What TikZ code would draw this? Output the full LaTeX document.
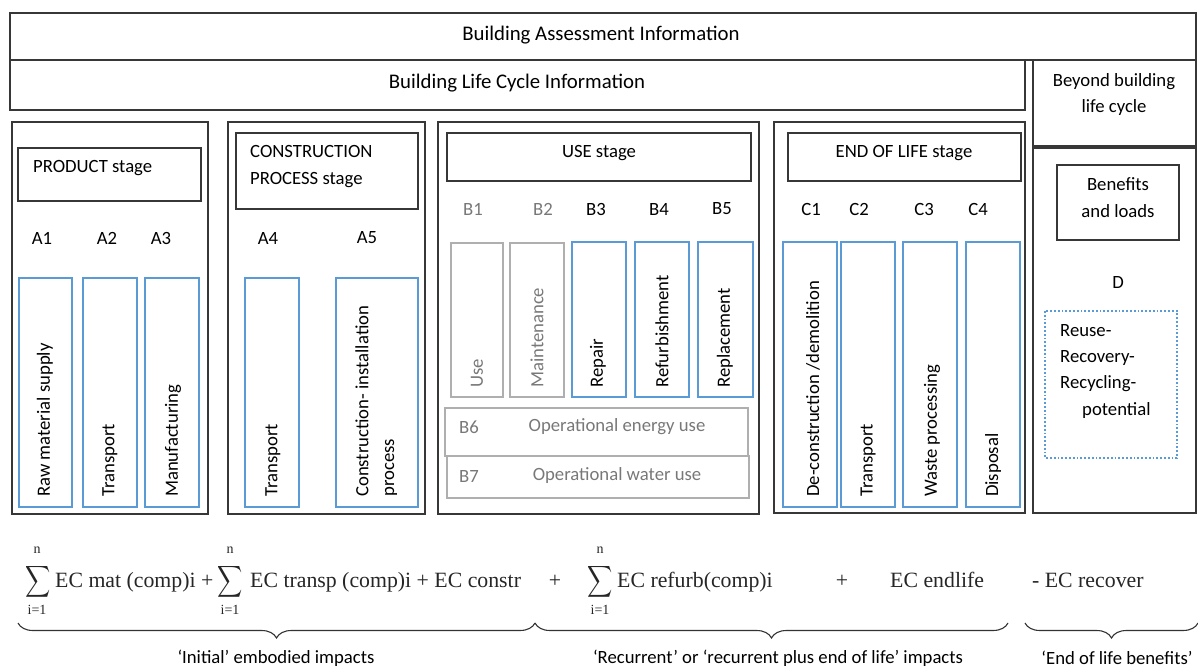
\documentclass[tikz,border=0pt]{standalone}
\usepackage{fontspec}
\setmainfont{Carlito}
\newfontfamily\formfont{Liberation Serif}
\usetikzlibrary{decorations.pathreplacing}
\definecolor{bblue}{RGB}{91,155,213}
\definecolor{lgray}{RGB}{175,175,175}
\definecolor{tgray}{RGB}{120,120,120}
\definecolor{dline}{RGB}{55,55,55}
\tikzset{
  bbox/.style={draw=dline, line width=1.3pt},
  bluebox/.style={draw=bblue, line width=2.6pt},
  graybox/.style={draw=lgray, line width=1.1pt},
  lbl/.style={inner sep=0pt, font=\fontsize{18.7}{22}\selectfont, text=black},
  biglbl/.style={inner sep=0pt, font=\fontsize{20.8}{24}\selectfont, text=black},
  glbl/.style={lbl, text=tgray},
  vlbl/.style={lbl, rotate=90, anchor=west},
  gvlbl/.style={glbl, rotate=90, anchor=west},
  ftxt/.style={inner sep=0pt, anchor=base west, font=\formfont\fontsize{21.8}{24}\selectfont, text=black!85},
  fsig/.style={inner sep=0pt, xscale=1.75, yscale=2.2, text=black!85},
  flim/.style={inner sep=0pt, font=\formfont\fontsize{14}{16}\selectfont, text=black!85},
  brc/.style={decorate, decoration={brace, mirror, amplitude=15pt}, draw=black!80, line width=1.1pt},
}
\begin{document}
\begin{tikzpicture}[x=1pt,y=-1pt]
\useasboundingbox (0,0) rectangle (1198,668);
% top boxes
\draw[bbox] (10,13) rectangle (1196,60);
\node[biglbl] (bai) at (601,35) {Building Assessment Information};
\draw[bbox] (10,60) rectangle (1025,110);
\node[biglbl] (blci) at (517,83) {Building Life Cycle Information};
\draw[bbox] (1033,60) rectangle (1196,146);
\node[lbl] (bey1) at (1114,82) {Beyond building};
\node[lbl] (bey2) at (1114,108) {life cycle};
% PRODUCT stage
\draw[bbox] (12,122) rectangle (208,514);
\draw[bbox] (18,148) rectangle (201,201);
\node[lbl, anchor=west] (prod) at (33,168) {PRODUCT stage};
\node[lbl] (a1) at (42,238) {A1};
\node[lbl] (a2) at (107,238) {A2};
\node[lbl] (a3) at (161,238) {A3};
\draw[bluebox] (19,278) rectangle (72,507);
\draw[bluebox] (83,278) rectangle (137,507);
\draw[bluebox] (145,278) rectangle (199,507);
\node[vlbl] (ta1) at (45,497) {Raw material supply};
\node[vlbl] (ta2) at (110,497) {Transport};
\node[vlbl] (ta3) at (173,497) {Manufacturing};
% CONSTRUCTION stage
\draw[bbox] (228,122) rectangle (425,514);
\draw[bbox] (236,133) rectangle (418,209);
\node[lbl, anchor=west] (cons1) at (250,152) {CONSTRUCTION};
\node[lbl, anchor=west] (cons2) at (250,180) {PROCESS stage};
\node[lbl] (a4) at (268,238) {A4};
\node[lbl] (a5) at (367,238) {A5};
\draw[bluebox] (245,278) rectangle (299,507);
\draw[bluebox] (336,278) rectangle (418,507);
\node[vlbl] (ta4) at (273,497) {Transport};
\node[vlbl] (ta5a) at (362,497) {Construction- installation};
\node[vlbl] (ta5b) at (391,497) {process};
% USE stage
\draw[bbox] (438,122) rectangle (759,514);
\draw[bbox] (447,133) rectangle (751,181);
\node[lbl] (use) at (599,153) {USE stage};
\node[glbl] (b1) at (473,209) {B1};
\node[glbl] (b2) at (543,209) {B2};
\node[lbl] (b3) at (596,209) {B3};
\node[lbl] (b4) at (659,209) {B4};
\node[lbl] (b5) at (722,209) {B5};
\draw[graybox] (451,243) rectangle (503,397);
\draw[graybox] (510,243) rectangle (564,397);
\draw[bluebox] (572,242) rectangle (626,397);
\draw[bluebox] (635,242) rectangle (689,397);
\draw[bluebox] (698,242) rectangle (753,397);
\node[gvlbl] (tb1) at (477,388) {Use};
\node[gvlbl] (tb2) at (537,388) {Maintenance};
\node[vlbl] (tb3) at (598,388) {Repair};
\node[vlbl] (tb4) at (662,388) {Refurbishment};
\node[vlbl] (tb5) at (725,388) {Replacement};
\draw[graybox] (445,408) rectangle (748,456);
\draw[graybox] (447,456) rectangle (749,498);
\node[glbl, anchor=west] (b6) at (459,427) {B6};
\node[glbl] (tb6) at (617,427) {Operational energy use};
\node[glbl, anchor=west] (b7) at (459,476) {B7};
\node[glbl] (tb7) at (617,476) {Operational water use};
% END OF LIFE stage
\draw[bbox] (774,122) rectangle (1025,513);
\draw[bbox] (788,133) rectangle (1021,181);
\node[lbl] (eol) at (904,153) {END OF LIFE stage};
\node[lbl] (c1) at (811,209) {C1};
\node[lbl] (c2) at (859,209) {C2};
\node[lbl] (c3) at (924,209) {C3};
\node[lbl] (c4) at (978,209) {C4};
\draw[bluebox] (783,242) rectangle (837,507);
\draw[bluebox] (841,242) rectangle (895,507);
\draw[bluebox] (903,242) rectangle (957,507);
\draw[bluebox] (966,242) rectangle (1020,507);
\node[vlbl] (tc1) at (813,497) {De-construction /demolition};
\node[vlbl] (tc2) at (868,497) {Transport};
\node[vlbl] (tc3) at (932,497) {Waste processing};
\node[vlbl] (tc4) at (993,497) {Disposal};
% D column
\draw[bbox] (1033,148) rectangle (1196,513);
\draw[bbox] (1057,165) rectangle (1179,240);
\node[lbl] (ben1) at (1118,184) {Benefits};
\node[lbl] (ben2) at (1118,211) {and loads};
\node[lbl] (d) at (1118,283) {D};
\draw[draw=bblue, line width=1.8pt, dotted] (1045,311) rectangle (1177,458);
\node[lbl, anchor=west] (r1) at (1060,331) {Reuse-};
\node[lbl, anchor=west] (r2) at (1060,358) {Recovery-};
\node[lbl, anchor=west] (r3) at (1060,384) {Recycling-};
\node[lbl, anchor=west] (r4) at (1082,411) {potential};
% formula
\node[fsig] (s1) at (38,582) {$\displaystyle\sum$};
\node[flim] (s1n) at (37,550) {n};
\node[flim] (s1i) at (37,610) {i=1};
\node[ftxt] (f1) at (55,587) {EC mat (comp)i +};
\node[fsig] (s2) at (230,582) {$\displaystyle\sum$};
\node[flim] (s2n) at (230,550) {n};
\node[flim] (s2i) at (230,610) {i=1};
\node[ftxt] (f2) at (250,587) {EC transp (comp)i + EC constr};
\node[ftxt, anchor=base] (f3) at (555,587) {+};
\node[fsig] (s3) at (600,582) {$\displaystyle\sum$};
\node[flim] (s3n) at (600,550) {n};
\node[flim] (s3i) at (600,610) {i=1};
\node[ftxt] (f4) at (617,587) {EC refurb(comp)i};
\node[ftxt, anchor=base] (f5) at (842,587) {+};
\node[ftxt] (f6) at (890,587) {EC endlife};
\node[ftxt] (f7) at (1032,587) {- EC recover};
% braces
\coordinate (br1a) at (18,623);
\coordinate (br1b) at (535,623);
\coordinate (br2b) at (1008,623);
\coordinate (br3a) at (1025,623);
\coordinate (br3b) at (1198,623);
\draw[brc] (br1a) -- (br1b);
\draw[brc] (br1b) -- (br2b);
\draw[brc] (br3a) -- (br3b);
\node[lbl] (l1) at (276,658) {‘Initial’ embodied impacts};
\node[lbl] (l2) at (778,658) {‘Recurrent’ or ‘recurrent plus end of life’ impacts};
\node[lbl] (l3) at (1117,658) {‘End of life benefits’};
\end{tikzpicture}
\end{document}
